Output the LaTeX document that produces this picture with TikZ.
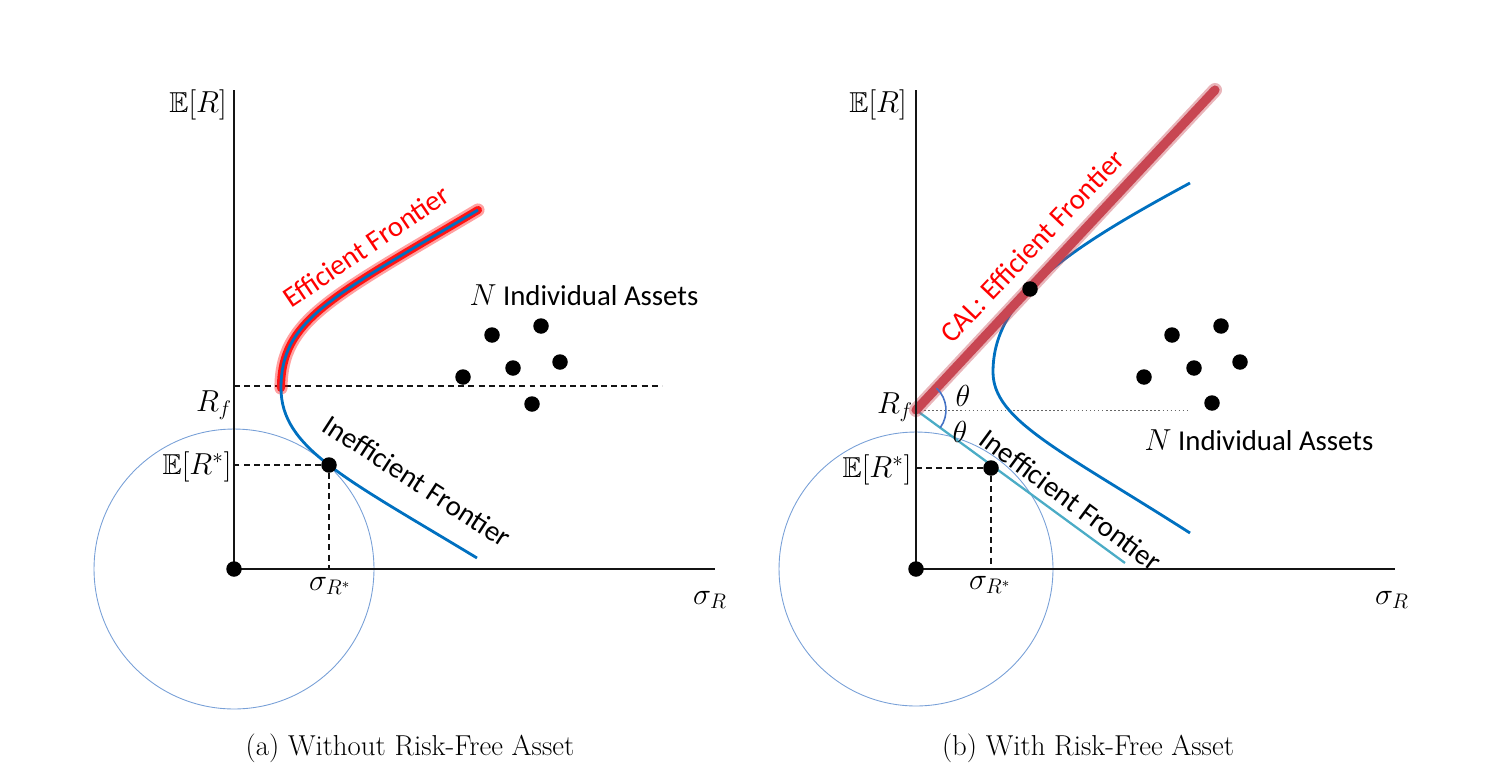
\documentclass[tikz,border=0pt]{standalone}
\usepackage{amsmath,amssymb}
\usepackage{fontspec}
\newfontfamily\calibri{Carlito}
\usepackage{tikz}
\usetikzlibrary{calc}
\definecolor{myblue}{RGB}{0,112,192}
\definecolor{myglow}{RGB}{255,20,20}
\definecolor{mycal}{RGB}{200,70,82}
\definecolor{myaqua}{RGB}{75,172,198}
\definecolor{mycirc}{RGB}{120,160,215}
\definecolor{myarc}{RGB}{68,114,196}
\definecolor{mydark}{RGB}{20,20,20}
\tikzset{
  axisline/.style={line width=1.3pt, color=mydark},
  dot/.style={circle, fill=black, inner sep=0pt, minimum size=0.31cm},
  guide/.style={dash pattern=on 3.4pt off 2.4pt, line width=0.6pt, color=mydark},
  fineguide/.style={dash pattern=on 0.9pt off 1.4pt, line width=0.5pt, color=black!60},
  frontier/.style={color=myblue, line width=1.6pt},
  glow/.style={color=myglow, line width=7.5pt, opacity=0.4, line cap=round},
  glowcore/.style={color=myglow, line width=4.6pt, line cap=round},
  calglow/.style={color=mycal, line width=8pt, opacity=0.4, line cap=round},
  calcore/.style={color=mycal, line width=5.2pt, line cap=round},
  level/.style={color=mycirc, line width=0.5pt},
  sans/.style={font=\calibri\fontsize{16.4}{19}\selectfont},
  redtext/.style={sans, text=red},
  caption/.style={font=\fontsize{16.4}{20}\selectfont}
}

\begin{document}
\begin{tikzpicture}[x=0.02cm, y=-0.02cm, font=\fontsize{16.4}{20}\selectfont]
  \useasboundingbox (0,0) rectangle (1500,774);

  % (a) without risk-free asset
  \coordinate (o1) at (234,569);
  \coordinate (top1) at (234,90);
  \coordinate (end1) at (715,569);
  \coordinate (rf1) at (234,386);
  \coordinate (rfend1) at (662,386);
  \coordinate (nose1) at (281,388);
  \coordinate (up1) at (478,210);
  \coordinate (down1) at (477,558);

  \draw[level] (o1) circle[radius=2.8cm];
  \draw[guide] (rf1) -- (rfend1);
  \draw[glow] (nose1) .. controls (281,320) and (330,298) .. (up1);
  \draw[glowcore] (nose1) .. controls (281,320) and (330,298) .. (up1);
  \draw[frontier] (up1) .. controls (330,298) and (281,320) .. (nose1)
    .. controls (281,448) and (345,478) .. (down1);
  \draw[axisline] (top1) -- (o1) -- (end1);

  \node[dot] (star1) at (329,465) {};
  \draw[guide] (star1) -- (star1 -| o1);
  \draw[guide] (star1) -- (star1 |- o1);
  \node[dot] (zero1) at (o1) {};

  \node[dot] (a1) at (492,335) {};
  \node[dot] (a2) at (541,326) {};
  \node[dot] (a3) at (513,368) {};
  \node[dot] (a4) at (560,362) {};
  \node[dot] (a5) at (463,377) {};
  \node[dot] (a6) at (532,404) {};

  \node (ey1)   at (198,105) {$\mathbb{E}[R]$};
  \node (rfl1)  at (214,405) {$R_f$};
  \node (ers1)  at (197,467) {$\mathbb{E}[R^*]$};
  \node (srs1)  at (330,586) {$\sigma_{R^*}$};
  \node (sr1)   at (710,600) {$\sigma_R$};
  \node[sans] (na1) at (584,295) {$N$ Individual Assets};
  \node[redtext, rotate=34] (eff1) at (366,246) {Efficient Frontier};
  \node[sans, rotate=-33] (ineff1) at (417,481) {Inefficient Frontier};
  \node[caption] (cap1) at (410,748) {(a) Without Risk-Free Asset};

  % (b) with risk-free asset
  \coordinate (o2) at (916,569);
  \coordinate (top2) at (916,90);
  \coordinate (end2) at (1395,569);
  \coordinate (rf2) at (916,410);
  \coordinate (rfend2) at (1190,410);
  \coordinate (calend) at (1215,90);
  \coordinate (lowend) at (1125,563);
  \coordinate (nose2) at (993,372);
  \coordinate (up2) at (1190,183);
  \coordinate (down2) at (1190,533);

  \draw[level] (o2) circle[radius=2.74cm];
  \draw[fineguide] (rf2) -- (rfend2);
  \draw[frontier] (up2) .. controls (1062,252) and (993,300) .. (nose2)
    .. controls (993,420) and (1060,450) .. (down2);
  \draw[color=myaqua, line width=1.3pt] (rf2) -- (lowend);
  \draw[calglow] (rf2) -- (calend);
  \draw[calcore] (rf2) -- (calend);
  \draw[color=myarc, line width=0.9pt] ($(rf2)+(47:0.6cm)$) arc[start angle=47, end angle=-36, radius=0.6cm];
  \draw[axisline] (top2) -- (o2) -- (end2);

  \node[dot] (tan2) at (1030,289) {};
  \node[dot] (star2) at (991,468) {};
  \draw[guide] (star2) -- (star2 -| o2);
  \draw[guide] (star2) -- (star2 |- o2);
  \node[dot] (zero2) at (o2) {};

  \node[dot] (b1) at (1172,335) {};
  \node[dot] (b2) at (1221,326) {};
  \node[dot] (b3) at (1194,368) {};
  \node[dot] (b4) at (1240,362) {};
  \node[dot] (b5) at (1144,377) {};
  \node[dot] (b6) at (1212,403) {};

  \node (ey2)   at (878,105) {$\mathbb{E}[R]$};
  \node (rfl2)  at (895,407) {$R_f$};
  \node (ers2)  at (877,470) {$\mathbb{E}[R^*]$};
  \node (srs2)  at (990,585) {$\sigma_{R^*}$};
  \node (sr2)   at (1392,600) {$\sigma_R$};
  \node (th1)   at (963,396) {$\theta$};
  \node (th2)   at (960,432) {$\theta$};
  \node[sans] (na2) at (1259,440) {$N$ Individual Assets};
  \node[redtext, rotate=46.5] (cal2) at (1032,246) {CAL: Efficient Frontier};
  \node[sans, rotate=-36.5] (ineff2) at (1071,500) {Inefficient Frontier};
  \node[caption] (cap2) at (1088,748) {(b) With Risk-Free Asset};
\end{tikzpicture}
\end{document}
